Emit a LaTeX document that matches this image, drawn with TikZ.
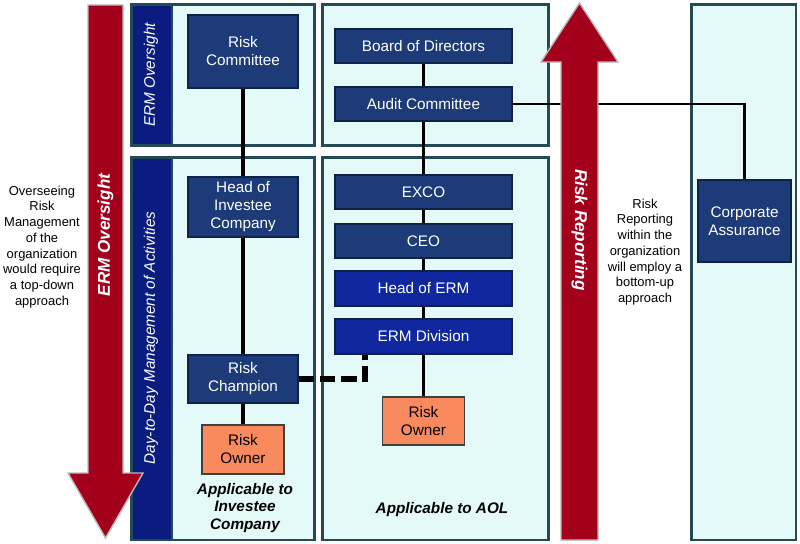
\documentclass[tikz,border=0pt]{standalone}
\usepackage{fontspec}
\setmainfont{Liberation Sans}
\usetikzlibrary{calc}
\definecolor{panelfill}{HTML}{E4FAF9}
\definecolor{paneledge}{HTML}{234A55}
\definecolor{stripblue}{HTML}{0B1C80}
\definecolor{navy}{HTML}{1C3B78}
\definecolor{navyedge}{HTML}{0E2147}
\definecolor{royal}{HTML}{1027A0}
\definecolor{owner}{HTML}{F98A5E}
\definecolor{arrowred}{HTML}{A3001B}

\begin{document}
\begin{tikzpicture}[x=0.85pt, y=-0.85pt,
  wh/.style 2 args={minimum width=#1*0.85pt, minimum height=#2*0.85pt},
  panel/.style={draw=paneledge, fill=panelfill, line width=2.4pt},
  strip/.style={draw=paneledge, fill=stripblue, line width=2.4pt},
  box/.style={draw=navyedge, fill=#1, line width=1.6pt, text=white, align=center, inner sep=0pt, font=\fontsize{13}{15.3}\selectfont},
  box/.default=navy,
  ownerbox/.style={box=owner, draw=black!75, text=black},
  link/.style={line width=2.6pt},
  dashlink/.style={line width=4.6pt, dash pattern=on 13pt off 5pt},
  bigarrow/.style={fill=arrowred, draw=gray!55, line width=1.2pt},
  arrowlabel/.style={text=white, font=\fontsize{14.5}{17}\selectfont\bfseries\itshape},
  striplabel/.style={text=white, font=\fontsize{13}{15}\selectfont\itshape},
  sidetext/.style={align=center, font=\fontsize{11}{13.4}\selectfont},
  applies/.style={align=center, font=\fontsize{13}{15}\selectfont\bfseries\itshape}
]
  \useasboundingbox (0,0) rectangle (800,543);

  % panels
  \draw[panel] (131.5,4.5) rectangle (314.5,145.5);
  \draw[strip] (131.5,4.5) rectangle (172,145.5);
  \draw[panel] (131.5,157.5) rectangle (314.5,540);
  \draw[strip] (131.5,157.5) rectangle (172,540);
  \draw[panel] (322.5,4.5) rectangle (548.5,145.5);
  \draw[panel] (322.5,157.5) rectangle (548.5,540);
  \draw[panel] (691.5,4.5) rectangle (796,540);

  \node[striplabel, rotate=90] (ermstrip) at (151,75) {ERM Oversight};
  \node[striplabel, rotate=90] (daystrip) at (151,338) {Day-to-Day Management of Activities};

  % boxes
  \node[box, wh={110}{73}] (rc) at (243,51.5) {Risk\\Committee};
  \node[box, wh={110}{60}] (hic) at (243,207) {Head of\\Investee\\Company};
  \node[box, wh={110}{48}] (rch) at (243,379) {Risk\\Champion};
  \node[ownerbox, wh={82}{49}] (roL) at (243,449.5) {Risk\\Owner};

  \node[box, wh={177}{34}] (bod) at (423.5,46) {Board of Directors};
  \node[box, wh={177}{34}] (ac) at (423.5,104) {Audit Committee};
  \node[box, wh={177}{34}] (exco) at (423.5,192) {EXCO};
  \node[box, wh={177}{34}] (ceo) at (423.5,241) {CEO};
  \node[box=royal, wh={177}{35}] (herm) at (423.5,288.5) {Head of ERM};
  \node[box=royal, wh={177}{35}] (ermd) at (423.5,336.5) {ERM Division};
  \node[ownerbox, wh={82}{48}] (roM) at (423.5,421) {Risk\\Owner};

  \node[box, wh={93}{82}] (ca) at (744.5,221) {Corporate\\Assurance};

  \node[applies] (appic) at (245,508) {Applicable to\\Investee\\Company};
  \node[applies] (appaol) at (442,510) {Applicable to AOL};

  % side notes
  \node[sidetext] (topdown) at (42,247) {Overseeing\\Risk\\Management\\of the\\organization\\would require\\a top-down\\approach};
  \node[sidetext] (bottomup) at (645,252) {Risk\\Reporting\\within the\\organization\\will employ a\\bottom-up\\approach};

  % reporting lines
  \coordinate (tap) at ($(ermd.south west)+(31,0)$);
  \draw[link] (rc) -- (hic);
  \draw[link] (hic) -- (rch);
  \draw[link] (rch) -- (roL);
  \draw[link] (bod) -- (ac);
  \draw[link] (ac) -- (exco);
  \draw[link] (exco) -- (ceo);
  \draw[link] (ceo) -- (herm);
  \draw[link] (herm) -- (ermd);
  \draw[link] (ermd) -- (roM);
  \draw[dashlink] (rch.east) -| (tap);
  \draw[line width=2pt] (ac.east) -| (ca.north);

  % big arrows
  \draw[bigarrow] (88,5) -- (123,5) -- (123,473) -- (143,473) -- (105.5,538) -- (68,473) -- (88,473) -- cycle;
  \draw[bigarrow] (561,540) -- (561,62) -- (541,62) -- (579.5,3) -- (618,62) -- (598,62) -- (598,540) -- cycle;
  \node[arrowlabel, rotate=90] (ermarrow) at (105.5,235) {ERM Oversight};
  \node[arrowlabel, rotate=-90] (rrarrow) at (579.5,230) {Risk Reporting};
\end{tikzpicture}
\end{document}
